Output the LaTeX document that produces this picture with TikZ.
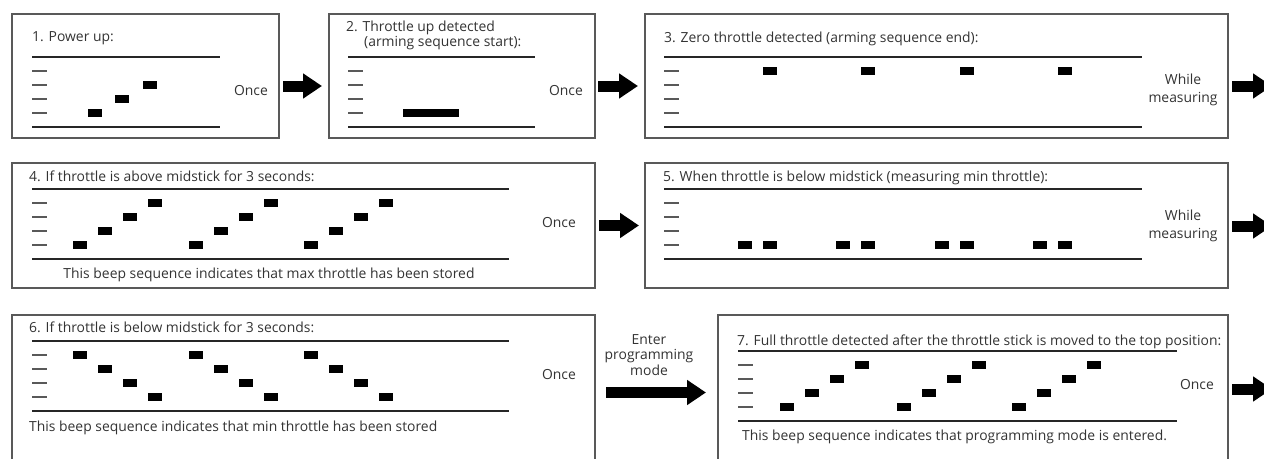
\documentclass[tikz,border=0pt]{standalone}
\usepackage{fontspec}
\setmainfont{Open Sans}
\usepackage{tikz}
\usetikzlibrary{arrows.meta,positioning}

\begin{document}
\begin{tikzpicture}[x=1pt,y=-1pt,font=\fontsize{13.9}{18}\selectfont]

	\tikzstyle{panel}=[rectangle,draw=black!65,line width=1.1pt,anchor=north west,inner sep=0pt,outer sep=0pt]
	\tikzstyle{heading}=[anchor=base west,inner sep=0pt,text=black!80]
	\tikzstyle{howoften}=[align=center,inner sep=0pt,text=black!80]
	\tikzstyle{rail}=[draw=black!85,line width=1.4pt]
	\tikzstyle{notch}=[draw=black!65,line width=1.4pt]
	\tikzstyle{beep}=[rectangle,fill=black,minimum width=14pt,minimum height=8pt,inner sep=0pt,anchor=west]
	\tikzstyle{bigarrow}=[line width=11pt,-{Triangle[length=19pt,width=24pt]}]

	\useasboundingbox (0,0) rectangle (1264,458);

	% boxes
	\node [panel,minimum width=267pt,minimum height=124pt] (b1) at (12,14) {};
	\node [panel,minimum width=266pt,minimum height=124pt] (b2) at (329,14) {};
	\node [panel,minimum width=583pt,minimum height=124pt] (b3) at (645,14) {};
	\node [panel,minimum width=583pt,minimum height=125pt] (b4) at (12,163) {};
	\node [panel,minimum width=583pt,minimum height=125pt] (b5) at (645,163) {};
	\node [panel,minimum width=583pt,minimum height=155pt] (b6) at (12,315) {};
	\node [panel,minimum width=510pt,minimum height=155pt] (b7) at (718,315) {};

	% staffs: left end / top rail / length
	\foreach \x/\y/\w in {32/57/188,348/57/187,664/57/478,32/189/477,664/189/478,32/341/477,738/351/439}{
		\draw [rail] (\x,\y) -- ++(\w,0) (\x,\y+70) -- ++(\w,0);
		\foreach \l in {14,28,42,56}
			\draw [notch] (\x,\y+\l) -- ++(15,0);
	}

	% beeps
	\node [beep] (p1a) at (88,113) {};
	\node [beep] (p1b) at (115,99) {};
	\node [beep] (p1c) at (143,85) {};
	\node [beep,minimum width=56pt] (p2) at (403,113) {};
	\foreach \i/\x in {1/763,2/861,3/960,4/1058}{
		\node [beep] (p3-\i) at (\x,71) {};
		\node [beep] (p5-\i) at (\x-25,245) {};
		\node [beep] (q5-\i) at (\x,245) {};
	}
	\foreach \g/\x/\z in {1/73/780,2/189/897,3/304/1012}
		\foreach \k in {0,...,3}{
			\node [beep] (p4-\g-\k) at (\x+25*\k,245-14*\k) {};
			\node [beep] (p6-\g-\k) at (\x+25*\k,355+14*\k) {};
			\node [beep] (p7-\g-\k) at (\z+25*\k,407-14*\k) {};
		}

	% texts
	\node [heading] (t1) at (32,41) {1. Power up:};
	\node [heading] (t2) at (346,31) {2. Throttle up detected};
	\node [heading] (t2b) at (364,46) {(arming sequence start):};
	\node [heading] (t3) at (664,42) {3. Zero throttle detected (arming sequence end):};
	\node [heading] (t4) at (29,181) {4. If throttle is above midstick for 3 seconds:};
	\node [heading] (t5) at (663,181) {5. When throttle is below midstick (measuring min throttle):};
	\node [heading] (t6) at (29,332) {6. If throttle is below midstick for 3 seconds:};
	\node [heading] (t7) at (737,345) {7. Full throttle detected after the throttle stick is moved to the top position:};
	\node [heading,anchor=base] (n4) at (269,278) {This beep sequence indicates that max throttle has been stored};
	\node [heading] (n6) at (29,431) {This beep sequence indicates that min throttle has been stored};
	\node [heading] (n7) at (742,440) {This beep sequence indicates that programming mode is entered.};

	\node [howoften] (o1) at (251,91) {Once};
	\node [howoften] (o2) at (566,91) {Once};
	\node [howoften] (o3) at (1183,90) {While\\measuring};
	\node [howoften] (o4) at (559,223) {Once};
	\node [howoften] (o5) at (1183,226) {While\\measuring};
	\node [howoften] (o6) at (559,375) {Once};
	\node [howoften,font=\fontsize{13.9}{15.5}\selectfont] (o8) at (649,355) {Enter\\programming\\mode};
	\node [howoften] (o7) at (1197,385) {Once};

	% arrows
	\coordinate (e3) at (1272,86);
	\coordinate (e5) at (1272,226);
	\coordinate (e7) at (1272,389);
	\draw [bigarrow,shorten <=4pt,shorten >=7pt] ([yshift=-10pt]b1.east) -- ([yshift=-10pt]b2.west);
	\draw [bigarrow,shorten <=3pt,shorten >=7pt] ([yshift=-10pt]b2.east) -- ([yshift=-10pt]b3.west);
	\draw [bigarrow,shorten <=4pt] (b3.east |- e3) -- (e3);
	\draw [bigarrow,shorten <=4pt,shorten >=6pt] (b4) -- (b5);
	\draw [bigarrow,shorten <=4pt] (b5.east |- e5) -- (e5);
	\draw [bigarrow,shorten <=11pt,shorten >=12pt] (b6) -- (b7);
	\draw [bigarrow,shorten <=4pt] (b7.east |- e7) -- (e7);
\end{tikzpicture}
\end{document}
